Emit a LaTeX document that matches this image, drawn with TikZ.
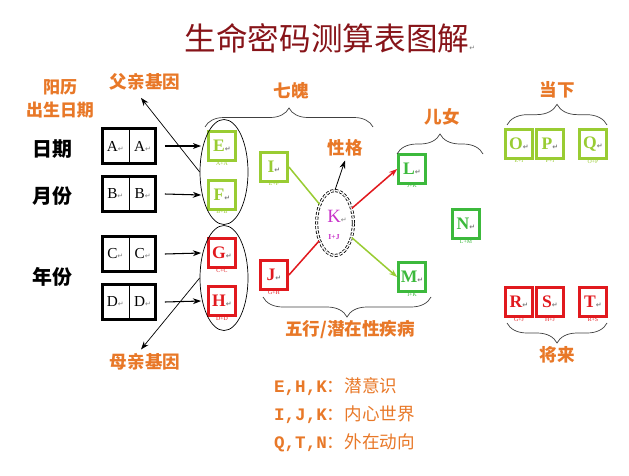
\documentclass[tikz,border=0pt]{standalone}
\usepackage{fontspec}
\setmainfont{Liberation Serif}
\newfontfamily\cjk{Noto Sans CJK SC}
\newfontfamily\mono{Liberation Mono}
\newfontfamily\sym{DejaVu Sans}
\usetikzlibrary{shapes.geometric,decorations.pathreplacing,arrows.meta}

\definecolor{titlered}{RGB}{135,20,25}
\definecolor{orng}{RGB}{232,120,40}
\definecolor{ygreen}{RGB}{153,204,51}
\definecolor{lgreen}{RGB}{60,185,60}
\definecolor{bred}{RGB}{225,25,30}
\definecolor{kpink}{RGB}{200,50,200}

% small paragraph mark
\newcommand{\ret}{{\sym\color{gray}\fontsize{6}{6}\selectfont\char"21B5}}

\begin{document}
\begin{tikzpicture}[x=0.03cm,y=-0.03cm,
    lbl/.style={text=orng,font=\cjk\bfseries\fontsize{15}{18}\selectfont},
    side/.style={font=\cjk\bfseries\fontsize{17}{19}\selectfont},
    cell/.style={draw=#1,text=#1,line width=2.4pt,minimum width=0.81cm,
      minimum height=0.87cm,inner sep=0pt,font=\bfseries\fontsize{15}{15}\selectfont},
    pair/.style={draw,line width=2.4pt,minimum width=1.59cm,minimum height=1.05cm,inner sep=0pt},
    sub/.style={text=#1,font=\fontsize{5}{5}\selectfont,inner sep=0.3pt,anchor=north},
    ring/.style={draw,ellipse,line width=0.6pt,minimum width=1.44cm,minimum height=3.15cm},
    brc/.style={decorate,decoration={brace,amplitude=#1},draw=darkgray,line width=0.6pt},
    arr/.style={-{Stealth[length=7pt,width=5pt]}},
    leg/.style={text=orng,anchor=west,font=\fontsize{15}{18}\selectfont}]
  \useasboundingbox (0,0) rectangle (629,475);

  % Title
  \node[text=titlered,font=\cjk\fontsize{27}{30}\selectfont] (title) at (330,38) {生命密码测算表图解\ret};

  % Left labels
  \node[lbl,align=center,font=\cjk\bfseries\fontsize{14.5}{20}\selectfont] (solar) at (60,99) {阳历\\出生日期};
  \node[side] (day) at (52,149) {日期};
  \node[side] (month) at (52,196) {月份};
  \node[side] (year) at (52,277) {年份};

  % Birth date pairs
  \foreach \l/\y in {A/146,B/194,C/254,D/302}{
    \node[pair] (p\l) at (129,\y) {};
    \draw[line width=0.6pt] (p\l.north) -- (p\l.south);
    \node[font=\fontsize{13}{13}\selectfont] (l\l) at ([xshift=-0.41cm]p\l.center) {\l\ret};
    \node[font=\fontsize{13}{13}\selectfont] (r\l) at ([xshift=0.41cm]p\l.center) {\l\ret};
  }

  % Number cells
  \foreach \n/\x/\y/\c/\s in {E/222/146/ygreen/A+A, F/222/195/ygreen/B+B,
      G/222/253/bred/C+C, H/222/301/bred/D+D, I/274/167/ygreen/E+F,
      J/274/275/bred/G+H, L/412/169/lgreen/J+K, M/412/277/lgreen/I+K,
      N/466/224/lgreen/L+M, O/519/144/ygreen/E+I, P/550/144/ygreen/F+I,
      Q/593/144/ygreen/O+P, R/519/302/bred/G+J, S/550/302/bred/H+J,
      T/593/302/bred/R+S}{
    \node[cell=\c] (\n) at (\x,\y) {\n\ret};
    \node[sub=\c] (s\n) at ([yshift=0.04cm]\n.south) {\s};
  }

  % Pairs into the first cells
  \foreach \src/\dst in {A/E,B/F,C/G,D/H}
    \draw[arr,line width=0.9pt] ([xshift=0.24cm]p\src.east) -- ([xshift=-0.18cm]\dst.west);

  % Parent rings
  \node[ring] (famring) at (224,172) {};
  \node[ring] (momring) at (224,278) {};
  \node[lbl] (dad) at (145,82) {父亲基因};
  \node[lbl] (mom) at (145,362) {母亲基因};
  \draw[arr,line width=0.6pt] (famring.west) -- ([xshift=-0.12cm,yshift=-0.1cm]dad.south);
  \draw[arr,line width=0.6pt] (momring.west) -- ([xshift=-0.12cm]mom.north);

  % Character K
  \node[ellipse,draw,dashed,double,line width=0.7pt,double distance=1.2pt,
    dash pattern=on 2.5pt off 1.5pt,minimum width=1.1cm,minimum height=1.95cm] (kring) at (335,223) {};
  \node[text=kpink,font=\fontsize{16}{16}\selectfont] (K) at (337,216) {K\ret};
  \node[text=kpink,font=\bfseries\fontsize{6.5}{6.5}\selectfont] (sK) at (334,237) {I+J};
  \node[lbl] (trait) at (345,148) {性格};
  \draw[arr,line width=0.7pt] (kring.north) -- (trait.south);

  % Lines through K
  \draw[ygreen,line width=1.3pt] (I.east) -- (kring);
  \draw[bred,line width=1.3pt] (J.east) -- (kring);
  \draw[bred,line width=1.3pt,arr] (kring) -- (L.west);
  \draw[ygreen,line width=1.3pt,arr] (kring) -- (M.west);

  % Braces and their labels
  \draw[brc=0.57cm] (205,127) -- (373,127);
  \draw[brc=0.6cm] (397,154) -- (483,154);
  \draw[brc=0.62cm] (507,125) -- (607,125);
  \draw[brc=0.6cm] (431,297) -- (263,297);
  \draw[brc=0.6cm] (607,323) -- (507,323);
  \node[lbl] (seven) at (291,91) {七魄};
  \node[lbl] (kids) at (442,117) {儿女};
  \node[lbl] (now) at (557,90) {当下};
  \node[lbl] (wuxing) at (350,330) {五行/潜在性疾病};
  \node[lbl] (future) at (557,355) {将来};

  % Legend
  \node[leg] (leg1) at (270,387) {{\mono\bfseries E,H,K}\cjk：潜意识};
  \node[leg] (leg2) at (270,415) {{\mono\bfseries I,J,K}\cjk：内心世界};
  \node[leg] (leg3) at (270,443) {{\mono\bfseries Q,T,N}\cjk：外在动向};
\end{tikzpicture}
\end{document}
